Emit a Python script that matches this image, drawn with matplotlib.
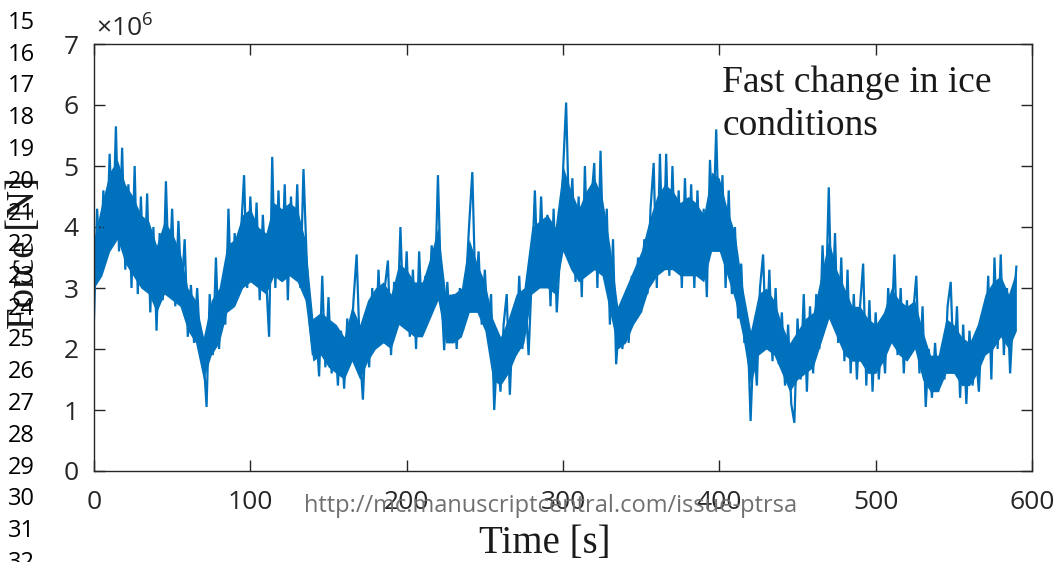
import numpy as np
import matplotlib
matplotlib.use("Agg")
import matplotlib.pyplot as plt

force_mn = [
    2.5, 4.3, 3.2, 4.6, 3.5, 5.2, 3.7, 5.65, 3.6, 5.3,
    3.3, 4.7, 3.0, 5.0, 2.9, 4.5, 3.0, 4.55, 2.6, 4.0,
    2.3, 3.9, 2.8, 4.75, 3.1, 4.3, 2.7, 4.1, 2.9, 3.8,
    2.2, 3.05, 2.1, 3.0, 2.0, 1.9, 1.05, 2.9, 1.9, 3.5,
    2.0, 3.0, 2.4, 4.3, 2.7, 3.9, 2.9, 3.9, 4.85, 3.0,
    4.5, 3.3, 4.4, 2.8, 4.2, 3.2, 2.2, 5.15, 3.0, 4.6,
    3.2, 4.7, 2.8, 4.5, 3.3, 4.7, 3.0, 4.95, 3.5, 2.4,
    1.9, 2.35, 1.55, 3.2, 1.7, 2.85, 1.6, 2.4, 1.4, 2.3,
    1.35, 2.5, 1.9, 2.8, 3.55, 2.0, 1.17, 2.4, 1.7, 3.0,
    2.0, 3.3, 2.1, 3.0, 3.45, 1.9, 3.1, 2.4, 4.0, 2.5,
    3.6, 2.2, 3.3, 2.0, 3.6, 2.3, 3.2, 2.6, 3.7, 2.9,
    4.85, 3.0, 1.98, 3.1, 2.2, 2.9, 2.0, 3.0, 2.3, 3.1,
    4.05, 4.9, 2.9, 3.6, 2.4, 3.3, 2.3, 2.9, 1.0, 2.0,
    1.3, 2.4, 2.9, 1.25, 2.5, 1.9, 3.2, 2.0, 2.8, 1.9,
    3.2, 4.6, 3.1, 4.5, 3.2, 4.2, 2.7, 4.3, 2.6, 3.5,
    4.9, 6.04, 4.0, 4.8, 3.1, 4.5, 2.85, 5.0, 3.3, 4.4,
    5.05, 3.0, 5.25, 3.4, 4.3, 2.4, 3.8, 1.75, 2.5, 2.0,
    2.9, 2.1, 3.2, 2.5, 3.5, 2.6, 3.8, 2.9, 4.3, 5.05,
    3.0, 5.2, 3.3, 5.2, 3.2, 5.0, 3.4, 4.6, 3.0, 4.8,
    3.3, 4.7, 3.0, 4.6, 3.2, 4.3, 2.85, 5.1, 3.9, 5.6,
    3.6, 4.85, 3.0, 4.6, 2.9, 4.0, 2.5, 3.4, 2.1, 2.4,
    0.82, 2.2, 1.4, 3.0, 3.55, 2.0, 3.3, 1.8, 3.0, 1.75,
    2.6, 1.4, 2.4, 1.1, 0.79, 2.5, 1.5, 2.9, 1.3, 2.7,
    1.6, 2.9, 2.0, 3.7, 2.6, 4.65, 2.5, 3.9, 2.1, 3.5,
    1.8, 3.3, 1.6, 2.9, 1.5, 2.7, 3.4, 1.4, 2.8, 1.3,
    2.6, 1.5, 2.3, 1.6, 3.0, 2.2, 3.55, 1.9, 3.0, 1.6,
    2.8, 1.9, 2.6, 3.2, 1.6, 2.7, 1.05, 2.0, 1.2, 2.1,
    1.3, 1.9, 1.5, 2.7, 3.1, 1.6, 2.7, 1.2, 2.4, 1.1,
    2.3, 1.4, 2.0, 1.3, 2.4, 2.0, 3.2, 1.5, 3.5, 2.0,
    3.55, 1.9, 3.0, 1.6, 2.6, 3.35,
]
sample_step_s = 2

# Dense core of the noise band (x1e6 N), read every 5 s
core_step_s = 5
core_low_mn = [
    3.0, 3.2, 3.6, 3.8, 3.4, 3.2, 3.0, 2.9, 2.6, 2.9,
    2.8, 2.7, 2.3, 2.1, 1.5, 1.9, 2.1, 2.6, 2.7, 3.0,
    3.1, 3.0, 2.9, 3.2, 3.1, 3.2, 3.1, 2.8, 1.8, 1.9,
    1.7, 1.6, 1.5, 1.8, 1.5, 1.8, 2.0, 2.1, 2.0, 2.4,
    2.3, 2.2, 2.2, 2.5, 2.8, 2.1, 2.1, 2.2, 2.6, 2.6,
    2.3, 1.5, 1.4, 1.6, 1.9, 2.1, 2.9, 3.0, 3.0, 2.9,
    3.6, 3.3, 3.1, 3.2, 3.3, 3.2, 2.6, 2.0, 2.1, 2.4,
    2.6, 3.0, 3.2, 3.3, 3.3, 3.2, 3.2, 3.2, 3.1, 3.6,
    3.6, 3.2, 2.8, 2.2, 1.4, 1.9, 2.0, 1.9, 1.6, 1.3,
    1.5, 1.6, 1.7, 2.1, 2.5, 2.2, 1.9, 1.8, 1.8, 1.6,
    1.6, 1.8, 2.1, 1.9, 1.8, 2.0, 1.5, 1.3, 1.3, 1.6,
    1.6, 1.4, 1.4, 1.6, 1.9, 2.0, 2.2, 2.0, 2.3,
]
core_high_mn = [
    3.8, 4.4, 4.9, 5.1, 4.7, 4.5, 4.2, 4.1, 3.7, 4.1,
    3.9, 3.6, 3.0, 2.8, 2.2, 2.8, 3.0, 3.7, 3.8, 4.2,
    4.3, 4.0, 3.9, 4.4, 4.3, 4.4, 4.3, 3.8, 2.5, 2.6,
    2.5, 2.4, 2.2, 2.7, 2.4, 2.8, 3.0, 3.1, 2.9, 3.4,
    3.3, 3.1, 3.1, 3.5, 4.0, 2.9, 2.9, 3.0, 3.8, 3.4,
    3.1, 2.5, 2.2, 2.5, 2.9, 3.0, 4.0, 4.1, 4.2, 4.0,
    5.0, 4.6, 4.3, 4.6, 4.8, 4.5, 3.7, 2.7, 3.0, 3.3,
    3.6, 4.1, 4.5, 4.7, 4.6, 4.4, 4.5, 4.4, 4.2, 4.9,
    4.8, 4.3, 3.9, 3.0, 2.3, 2.9, 3.0, 2.8, 2.4, 2.1,
    2.3, 2.5, 2.6, 3.2, 3.8, 3.3, 3.0, 2.7, 2.7, 2.5,
    2.4, 2.6, 3.0, 2.8, 2.7, 2.8, 2.3, 1.9, 1.9, 2.5,
    2.4, 2.2, 2.1, 2.4, 2.9, 3.1, 3.2, 2.9, 3.3,
]

time_s = np.arange(len(force_mn)) * sample_step_s
force_n = np.array(force_mn) * 1e6
core_time_s = np.arange(len(core_low_mn)) * core_step_s

x_ticks = [0, 100, 200, 300, 400, 500, 600]
y_ticks = [0, 1, 2, 3, 4, 5, 6, 7]
line_numbers = list(range(15, 33))

plt.rcParams['mathtext.fontset'] = 'custom'
plt.rcParams['mathtext.rm'] = 'Open Sans'
plt.rcParams['mathtext.it'] = 'Open Sans'

W, H = 1056, 562
fig = plt.figure(figsize=(W / 100, H / 100), dpi=100)
ax = fig.add_axes([94 / W, 1 - 471 / H, (1032 - 94) / W, (471 - 44) / H])

blue = '#0072BD'
ax.fill_between(core_time_s, np.array(core_low_mn) * 1e6, np.array(core_high_mn) * 1e6,
                color=blue, lw=0)
ax.plot(time_s, force_n, color=blue, lw=1.6, solid_joinstyle='miter')

ax.set_xlim(0, 600)
ax.set_ylim(0, 7e6)
ax.set_xticks(x_ticks)
ax.set_xticklabels([str(v) for v in x_ticks])
ax.set_yticks([v * 1e6 for v in y_ticks])
ax.set_yticklabels([str(v) for v in y_ticks])

axis_col = '#262626'
for s in ax.spines.values():
    s.set_color(axis_col)
    s.set_linewidth(1.0)
ax.tick_params(direction='in', length=8, width=1.0, color=axis_col,
               top=True, right=True, labelsize=19, labelcolor=axis_col)
ax.tick_params(axis='x', pad=14)
ax.tick_params(axis='y', pad=11)
for lab in ax.get_xticklabels() + ax.get_yticklabels():
    lab.set_fontfamily('Open Sans')

ax.text(0.002, 1.035, r'$\times10^{6}$', transform=ax.transAxes,
        fontsize=19, color=axis_col, ha='left', va='center')

ax.set_xlabel('Time [s]', fontfamily='Liberation Serif', fontsize=28, color='#1a1a1a')
ax.xaxis.set_label_coords(0.481, -0.17)
ax.xaxis.label.set_verticalalignment('center')
ax.set_ylabel('Force [N]', fontfamily='Liberation Serif', fontsize=28, color='#1a1a1a')
ax.yaxis.set_label_coords(-0.074, 0.51)
ax.yaxis.label.set_verticalalignment('center')

ax.text(0.67, 0.95, 'Fast change in ice\nconditions', transform=ax.transAxes,
        fontfamily='Liberation Serif', fontsize=27, color='#1a1a1a',
        ha='left', va='top', linespacing=1.32)

# manuscript line numbers
for i, n in enumerate(line_numbers):
    fig.text(8 / W, 1 - (23 + i * 31.75) / H, str(n), fontfamily='Open Sans',
             fontsize=17, color='black', ha='left', va='center')

fig.text(551 / W, 1 - 506 / H, 'http://mc.manuscriptcentral.com/issue-ptrsa',
         fontfamily='Open Sans', fontsize=17, color='#707070', ha='center', va='center')

fig.savefig('out.png', dpi=100)
